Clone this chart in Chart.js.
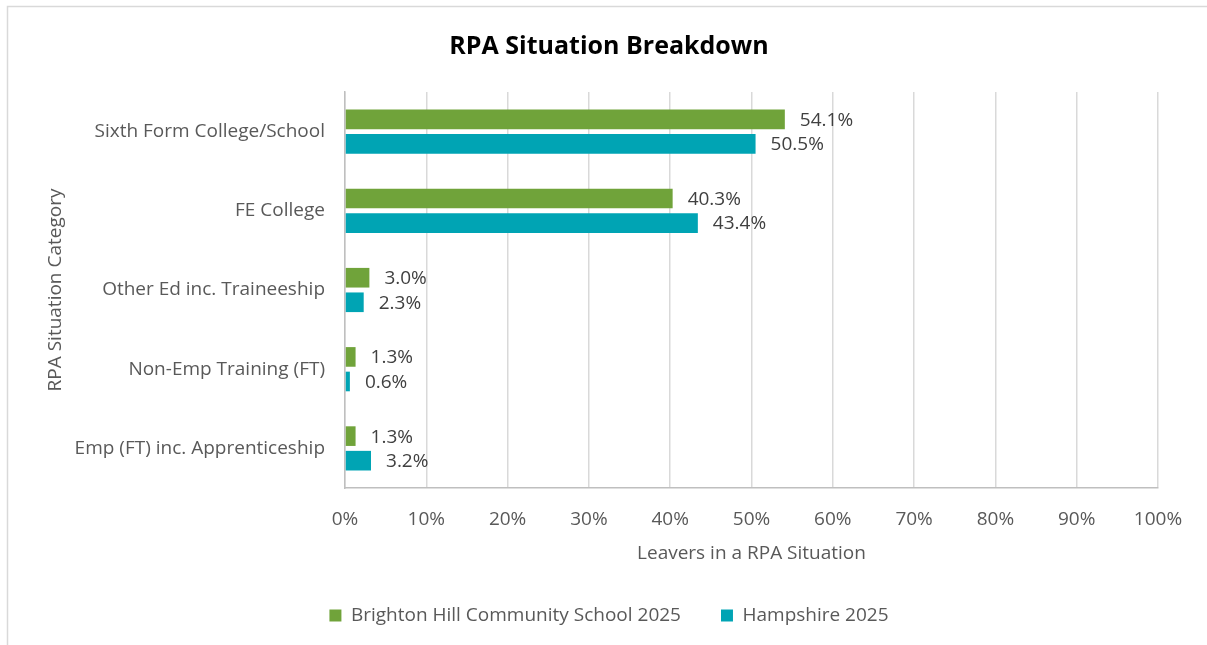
<!DOCTYPE html>
<html>
<head>
<meta charset="utf-8">
<script src="https://cdn.jsdelivr.net/npm/chart.js@4.4.1/dist/chart.umd.min.js"></script>
<style>
    body { margin: 0; background: #fff; }
    #wrap { position: relative; width: 1207px; height: 645px; overflow: hidden; }
</style>
</head>
<body>
<div id="wrap"><canvas id="rpaChart" width="1207" height="645"></canvas></div>
<script>
let categories = ['Sixth Form College/School', 'FE College', 'Other Ed inc. Traineeship', 'Non-Emp Training (FT)', 'Emp (FT) inc. Apprenticeship'];
let brightonHill = [54.1, 40.3, 3.0, 1.3, 1.3];
let hampshire = [50.5, 43.4, 2.3, 0.6, 3.2];
let seriesNames = ['Brighton Hill Community School 2025', 'Hampshire 2025'];

const FONT = '"Open Sans", "Noto Sans", sans-serif';

// frame round the chart
const framePlugin = {
    id: 'frame',
    beforeDraw(chart) {
        let ctx = chart.ctx;
        ctx.save();
        ctx.fillStyle = '#fff';
        ctx.fillRect(0, 0, chart.width, chart.height);
        ctx.strokeStyle = '#d9d9d9';
        ctx.lineWidth = 1.5;
        ctx.strokeRect(7.5, 6.5, 1400, 800);
        ctx.restore();
    }
};

// value labels at the end of each bar
const valueLabels = {
    id: 'valueLabels',
    afterDatasetsDraw(chart) {
        let ctx = chart.ctx;
        ctx.save();
        ctx.font = '19px ' + FONT;
        ctx.fillStyle = '#404040';
        ctx.textBaseline = 'middle';
        ctx.textAlign = 'left';
        chart.data.datasets.forEach((ds, i) => {
            chart.getDatasetMeta(i).data.forEach((bar, j) => {
                ctx.fillText(ds.data[j].toFixed(1) + '%', bar.x + 15, bar.y + 1);
            });
        });
        ctx.restore();
    }
};

new Chart(document.getElementById('rpaChart'), {
    type: 'bar',
    data: {
        labels: categories,
        datasets: [{
            label: seriesNames[0],
            data: brightonHill,
            backgroundColor: '#70a33a'
        }, {
            label: seriesNames[1],
            data: hampshire,
            backgroundColor: '#00a4b4'
        }]
    },
    options: {
        indexAxis: 'y',
        responsive: false,
        animation: false,
        devicePixelRatio: 1,
        categoryPercentage: 0.62,
        barPercentage: 0.8,
        layout: { padding: { left: 60, right: 49, top: 6, bottom: 10 } },
        scales: {
            x: {
                min: 0,
                max: 100,
                ticks: {
                    stepSize: 10,
                    padding: 20,
                    color: '#595959',
                    font: { family: FONT, size: 19 },
                    callback: v => v + '%'
                },
                grid: { color: '#d9d9d9', lineWidth: 1.5, drawTicks: false },
                border: { color: '#bfbfbf', width: 1.5 },
                title: {
                    display: true,
                    text: 'Leavers in a RPA Situation',
                    color: '#595959',
                    font: { family: FONT, size: 19 },
                    padding: { top: 8, bottom: 1 }
                },
                afterFit(scale) { scale.height = 78; }
            },
            y: {
                ticks: {
                    padding: 20,
                    color: '#595959',
                    font: { family: FONT, size: 19 }
                },
                grid: { display: false, drawTicks: false },
                border: { color: '#bfbfbf', width: 1.5 },
                title: {
                    display: true,
                    text: 'RPA Situation Category',
                    color: '#595959',
                    font: { family: FONT, size: 19 },
                    padding: { top: -16, bottom: 0 }
                },
                afterFit(scale) { scale.width = 285; }
            }
        },
        plugins: {
            title: {
                display: true,
                text: 'RPA Situation Breakdown',
                color: '#000',
                font: { family: FONT, size: 25, weight: 'bold' },
                padding: { top: 26, bottom: 30 }
            },
            legend: {
                position: 'bottom',
                labels: {
                    boxWidth: 12,
                    boxHeight: 12,
                    padding: 40,
                    color: '#595959',
                    font: { family: FONT, size: 19 }
                }
            },
            tooltip: { enabled: false }
        }
    },
    plugins: [framePlugin, valueLabels]
});
</script>
</body>
</html>
